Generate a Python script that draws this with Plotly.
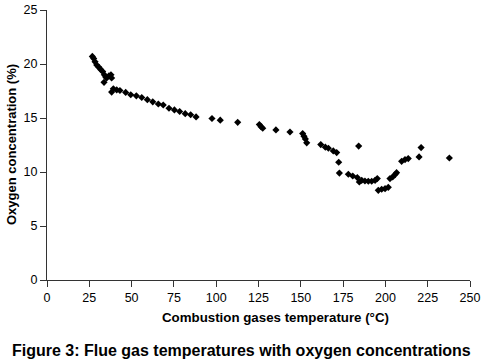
import plotly.graph_objects as go

temperature = [26.8, 27.6, 28.4, 29.4, 30.7, 31.7, 32.9, 33.9, 34.7, 33.7, 35.3, 36.6, 37.8, 38.2,
               38.2, 39.2, 41.2, 43.1, 46.5, 49.5, 52.8, 56.0, 59.3, 62.5, 65.8, 68.7, 72.1, 75.3,
               78.4, 81.7, 84.9, 88.1, 97.5, 102.4, 112.7, 125.5, 126.5, 127.5, 135.3, 143.6,
               151.1, 151.9, 152.7, 153.5, 161.8, 164.5, 166.3, 169.2, 171.2, 172.4, 172.8,
               184.2, 178.1, 180.7, 183.4, 184.6, 186.0, 187.9, 189.9, 191.9, 193.9, 195.2,
               195.8, 197.8, 199.8, 201.7, 202.7, 204.3, 205.7, 206.6, 209.6, 211.6, 213.5,
               219.9, 221.1, 237.8]
oxygen = [20.7, 20.5, 20.2, 19.9, 19.7, 19.5, 19.3, 19.0, 18.8, 18.3, 18.7, 18.9, 19.0, 18.7,
          17.4, 17.7, 17.6, 17.55, 17.37, 17.15, 17.05, 16.9, 16.7, 16.5, 16.3, 16.2, 15.9, 15.75,
          15.6, 15.4, 15.3, 15.1, 14.95, 14.8, 14.6, 14.4, 14.2, 14.05, 13.9, 13.7,
          13.56, 13.3, 13.06, 12.7, 12.54, 12.3, 12.2, 11.95, 11.8, 10.9, 9.9,
          12.4, 9.79, 9.63, 9.48, 9.07, 9.23, 9.17, 9.14, 9.14, 9.23, 9.39,
          8.3, 8.4, 8.46, 8.58, 9.39, 9.54, 9.76, 9.94, 10.99, 11.15, 11.24,
          11.4, 12.26, 11.3]

x_ticks = [0, 25, 50, 75, 100, 125, 150, 175, 200, 225, 250]
y_ticks = [0, 5, 10, 15, 20, 25]

font_family = "Liberation Sans, Arial, sans-serif"

fig = go.Figure(go.Scatter(
    x=temperature, y=oxygen, mode="markers",
    marker=dict(symbol="diamond", size=5.5, color="black"),
    cliponaxis=False,
))

axis_common = dict(showline=True, linecolor="#333333", linewidth=1, ticks="outside",
                   ticklen=6, tickcolor="#333333", showgrid=False, zeroline=False,
                   automargin=False,
                   tickfont=dict(family=font_family, size=12.5, color="black"))

fig.update_layout(
    width=482, height=364,
    margin=dict(l=47, r=12, t=10, b=84),
    plot_bgcolor="white", paper_bgcolor="white",
    showlegend=False,
    font=dict(family=font_family, color="black"),
    xaxis=dict(range=[0, 250], tickvals=x_ticks, **axis_common),
    yaxis=dict(range=[0, 25], tickvals=y_ticks, **axis_common),
    annotations=[
        dict(text="<b>Combustion gases temperature (°C)</b>",
             xref="paper", yref="paper", x=(275 - 47) / 423, y=-37 / 270, xanchor="center",
             yanchor="middle", showarrow=False,
             font=dict(family=font_family, size=13.3, color="black")),
        dict(text="<b>Oxygen concentration (%)</b>",
             xref="paper", yref="paper", x=-36 / 423, y=0.5, xanchor="center",
             yanchor="middle", showarrow=False, textangle=-90,
             font=dict(family=font_family, size=13, color="black")),
        dict(text="<b>Figure 3: Flue gas temperatures with oxygen concentrations</b>",
             xref="paper", yref="paper", x=(241.5 - 47) / 423, y=-70 / 270, xanchor="center",
             yanchor="middle", showarrow=False,
             font=dict(family=font_family, size=16, color="black")),
    ],
)

fig.write_html("out.html", config={"displayModeBar": False},
               post_script="document.body.style.margin='0';document.body.style.padding='0';")
